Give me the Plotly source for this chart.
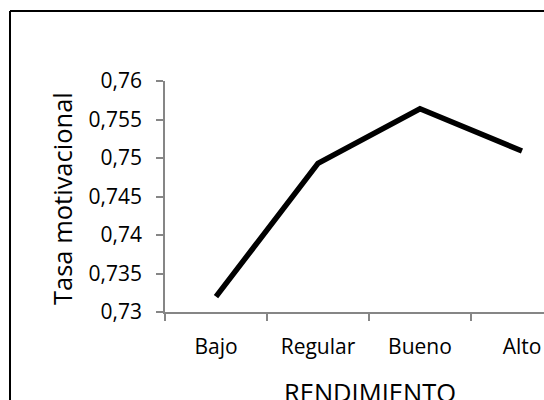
import plotly.graph_objects as go

categories = ["Bajo", "Regular", "Bueno", "Alto"]
values = [0.7320, 0.7493, 0.7564, 0.7509]
y_ticks = [0.73, 0.735, 0.74, 0.745, 0.75, 0.755, 0.76]
y_ticklabels = ["0,73", "0,735", "0,74", "0,745", "0,75", "0,755", "0,76"]

W, H = 544, 400
ML, MR, MT, MB = 165, 0, 81, 400 - 312
PW, PH = W - ML - MR, H - MT - MB


def px_x(p):
    return (p - ML) / PW


def px_y(p):
    return (H - MB - p) / PH


FONT = "Open Sans"
TICK = 21
TITLE = 25.5

fig = go.Figure()
fig.add_trace(go.Scatter(
    x=categories, y=values, mode="lines",
    line=dict(color="black", width=5.5),
    showlegend=False, hoverinfo="skip",
))

fig.update_layout(
    width=W, height=H,
    margin=dict(l=ML, r=MR, t=MT, b=MB, pad=0),
    paper_bgcolor="white", plot_bgcolor="white",
    font=dict(family=FONT, size=TICK, color="black"),
    xaxis=dict(
        type="category", range=[-0.5, 3.216],
        showgrid=False, zeroline=False,
        showline=True, linecolor="#868686", linewidth=1.5,
        ticks="outside", ticklen=7, tickcolor="#868686", tickwidth=1.5,
        tickson="boundaries", ticklabelstandoff=15,
        tickfont=dict(family=FONT, size=TICK, color="black"),
    ),
    yaxis=dict(
        range=[0.73, 0.76], tickvals=y_ticks, ticktext=y_ticklabels,
        showgrid=False, zeroline=False,
        showline=True, linecolor="#868686", linewidth=1.5,
        ticks="outside", ticklen=7, tickcolor="#868686", tickwidth=1.5,
        ticklabelstandoff=10,
        tickfont=dict(family=FONT, size=TICK, color="black"),
    ),
    shapes=[
        dict(type="line", xref="paper", yref="paper",
             x0=px_x(10), x1=px_x(10), y0=px_y(11), y1=px_y(430),
             line=dict(color="black", width=2)),
        dict(type="line", xref="paper", yref="paper",
             x0=px_x(10), x1=px_x(570), y0=px_y(11), y1=px_y(11),
             line=dict(color="black", width=2)),
    ],
    annotations=[
        dict(text="Tasa motivacional", xref="paper", yref="paper",
             x=px_x(62), y=px_y(199), xanchor="center", yanchor="middle",
             textangle=-90, showarrow=False,
             font=dict(family=FONT, size=TITLE, color="black")),
        dict(text="RENDIMIENTO", xref="paper", yref="paper",
             x=px_x(370), y=px_y(391.5), xanchor="center", yanchor="middle",
             showarrow=False,
             font=dict(family=FONT, size=TITLE, color="black")),
    ],
)

fig.write_html(
    "out.html",
    config={"displayModeBar": False},
    post_script="document.body.style.margin='0';"
                "document.body.style.overflow='hidden';",
)
